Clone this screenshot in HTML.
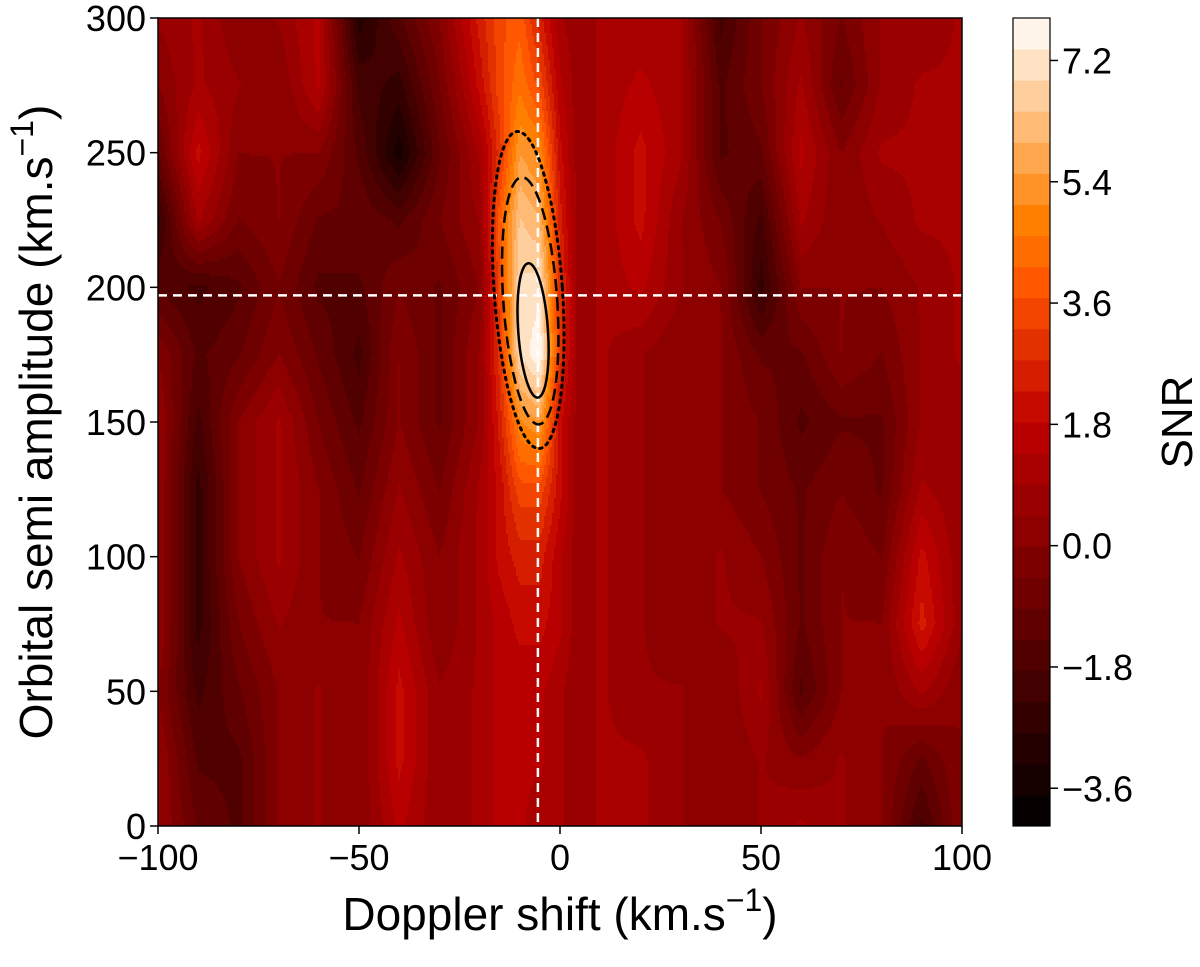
<!DOCTYPE html>
<html><head><meta charset="utf-8"><style>
html,body{margin:0;padding:0;background:#fff;}
svg{display:block;font-family:"Liberation Sans","DejaVu Sans",sans-serif;}
</style></head><body>
<svg id="chart" width="1200" height="967" viewBox="0 0 1200 967" xmlns="http://www.w3.org/2000/svg">
<defs><clipPath id="pc"><rect x="158" y="18" width="804" height="808"/></clipPath></defs>
<g id="heat" clip-path="url(#pc)"></g>
<g id="marks"></g>
<g id="axes"></g>
<g id="cbar"></g>
<text x="560" y="930" text-anchor="middle" font-size="46">Doppler shift (km.s<tspan dy="-19" font-size="32">−1</tspan><tspan dy="19">)</tspan></text>
<text transform="translate(52 422) rotate(-90)" text-anchor="middle" font-size="46">Orbital semi amplitude (km.s<tspan dy="-19" font-size="32">−1</tspan><tspan dy="19">)</tspan></text>
<text transform="translate(1192 422) rotate(-90)" text-anchor="middle" font-size="44">SNR</text>
</svg>
<script>
const xs = [-100,-90,-80,-70,-60,-50,-40,-30,-20,-15,-10,-5,0,5,10,20,30,40,50,60,70,80,90,100];
const ys = [0,25,50,75,100,125,150,175,200,225,250,275,300];
const snrRows = [
[0.5,-1,-1.5,0,0.5,0,1.5,0.5,1,1.5,1.5,1,1,0.5,1,1,0.5,0,0.5,1,0.5,0,-2,0],
[0.5,-1.5,-1.5,0,0.5,0,2,0.5,1,1.5,1.5,1.5,1,0.5,1,1,0.5,0,0.5,0,0.5,0,-1,0],
[0,-2,-1,0,0.5,0,2,0.5,1,1.5,1.5,1.5,1,0.5,1,0.5,0.5,0,1,-1.5,0,0,1,0],
[0.5,-2.5,-0.5,0.5,0,0,1.5,0,1,1.5,2,2,1.5,0.5,1,0.5,0,0.5,0.5,-1,0,0,2.5,0.5],
[0.5,-2.5,0,1,0,-0.5,1,0,1,2,2.5,2.5,1.5,0.5,1,0.5,0,0.5,0,-1,0,-0.5,2,0.5],
[0.5,-2.5,0,1,0,-1,0.5,-0.5,1,2,3.5,3.5,2,0.5,1,0.5,0,0,-0.5,-1,-0.5,-1,1,0.5],
[0.5,-2,0,1,-0.5,-1.5,0,-1,0.5,2.5,5,5.5,2,0.5,1,0.5,0,0,-0.5,-1.5,-1,-1,0.5,0.5],
[0,-1.5,-1,0,-1,-2,0,-1,0.5,3,7,7.8,3,0.5,1,0.5,0,0,-1,-1,0,-0.5,0.5,1],
[-1.5,-2,-1.5,-0.5,-1.5,-1.5,-0.5,-1,0,3.5,7,7.2,3,0.5,1,1.5,0.5,0,-2.5,0,0,0,0.5,1],
[-2.5,1,-0.5,0,-1,-1,-1.5,-0.5,0.5,4,6.5,6,2.5,0.5,1,2,0.5,-0.5,-2,1,0,0.5,1,1],
[-1,2,0,0,0,-1.5,-3.5,-1,1,3,5.5,5,2,0.5,1,2,1,-1.5,-1,1.5,0,1,1,1],
[0,1,0.5,0,1.5,-2,-2.5,-0.5,2,3.5,4.5,3.5,1.5,0.5,1,1.5,1,-1.5,-0.5,1,-1,0.5,1,1],
[0.5,1,0,0.5,1.5,-3,-1.5,0,2.5,3.5,4,2.5,1,0.5,1,1,1,-2,-0.5,0.5,-0.5,0.5,0.5,1]
];
const xTicks = [-100,-50,0,50,100];
const yTicks = [0,50,100,150,200,250,300];
const cbTicks = [7.2,5.4,3.6,1.8,0.0,-1.8,-3.6];
const cbTickLabels = ["7.2","5.4","3.6","1.8","0.0","\u22121.8","\u22123.6"];
const vMin = -4.16, vMax = 7.83, nBands = 26;
const refLineX = -5.5, refLineY = 197;
const contourCx = [-6.7, -7.4, -7.9];
const contourCy = [184, 195, 199];
const contourRx = [3.7, 6.7, 8.5];
const contourRy = [25, 46, 59];
const contourStyle = ["solid","dashed","dotted"];

const NS = "http://www.w3.org/2000/svg";
const X0=158,X1=962,Y0=826,Y1=18;
const sx = v => X0 + (v+100)/200*(X1-X0);
const sy = v => Y0 - v/300*(Y0-Y1);
const cbY = v => 826 - (v-vMin)/(vMax-vMin)*808;
function mk(tag, attrs, parent){const e=document.createElementNS(NS,tag);for(const k in attrs)e.setAttribute(k,attrs[k]);parent.appendChild(e);return e;}
function heat(t){t=Math.max(0,Math.min(1,t));const r=Math.min(1,1.5*t),g=Math.max(0,Math.min(1,2*t-1)),b=Math.max(0,Math.min(1,4*t-3));return `rgb(${Math.round(r*255)},${Math.round(g*255)},${Math.round(b*255)})`;}
const step=(vMax-vMin)/nBands;
function band(v){let k=Math.floor((v-vMin)/step);return Math.max(0,Math.min(nBands-1,k));}
function bandColor(k){return heat((k+0.5)/nBands);}
function locate(arr,v){for(let i=0;i<arr.length-1;i++){if(v<=arr[i+1])return [i,(v-arr[i])/(arr[i+1]-arr[i])];}return [arr.length-2,1];}
function interp(x,y){const [i,fx]=locate(xs,x),[j,fy]=locate(ys,y);
 const a=snrRows[j][i],b=snrRows[j][i+1],c=snrRows[j+1][i],d=snrRows[j+1][i+1];
 return a*(1-fx)*(1-fy)+b*fx*(1-fy)+c*(1-fx)*fy+d*fx*fy;}

const heatG=document.getElementById('heat');
const dx=2,dy=3;
for(let py=Y1;py<Y0;py+=dy){
 const yv=(Y0-(py+dy/2))/(Y0-Y1)*300;
 let startX=X0,cur=null;
 for(let px=X0;px<=X1;px+=dx){
  let k=null;
  if(px<X1){const xv=(px+dx/2-X0)/(X1-X0)*200-100;k=band(interp(xv,yv));}
  if(k!==cur){
   if(cur!==null){const r=mk('rect',{x:startX,y:py,width:px-startX+0.6,height:dy+0.6,fill:bandColor(cur)},heatG);
    
    }
   cur=k;startX=px;}
 }
}
const marks=document.getElementById('marks');
let l=mk('line',{x1:sx(refLineX),x2:sx(refLineX),y1:Y1,y2:Y0,stroke:'#fff','stroke-width':2.5,'stroke-dasharray':'9,6'},marks);


l=mk('line',{x1:X0,x2:X1,y1:sy(refLineY),y2:sy(refLineY),stroke:'#fff','stroke-width':2.5,'stroke-dasharray':'9,6'},marks);


for(let i=0;i<contourCx.length;i++){
 const cx=sx(contourCx[i]),cy=sy(contourCy[i]);
 const rx=contourRx[i]/200*(X1-X0),ry=contourRy[i]/300*(Y0-Y1);
 const st=contourStyle[i];
 const e=mk('ellipse',{cx:cx,cy:cy,rx:rx,ry:ry,fill:'none',stroke:'#000','stroke-width':st==='dotted'?3:2.5,
  'stroke-dasharray':st==='dashed'?'12,6':(st==='dotted'?'2.5,5':'none'),'stroke-linecap':st==='dotted'?'round':'butt',
  transform:`rotate(-4 ${cx} ${cy})`},marks);
 
 
}
const axes=document.getElementById('axes');
let fr=mk('rect',{x:X0,y:Y1,width:X1-X0,height:Y0-Y1,fill:'none',stroke:'#000','stroke-width':1.5},axes);


xTicks.forEach(v=>{
 mk('line',{x1:sx(v),x2:sx(v),y1:Y0,y2:Y0+8,stroke:'#000','stroke-width':1.5},axes);
 const t=mk('text',{x:sx(v),y:Y0+44,'text-anchor':'middle','font-size':36},axes);
 t.textContent=v<0?'\u2212'+Math.abs(v):String(v);
 
 
});
yTicks.forEach(v=>{
 mk('line',{x1:X0-8,x2:X0,y1:sy(v),y2:sy(v),stroke:'#000','stroke-width':1.5},axes);
 const t=mk('text',{x:X0-12,y:sy(v)+13,'text-anchor':'end','font-size':36},axes);
 t.textContent=String(v);
 
 
});
const cb=document.getElementById('cbar');
for(let k=0;k<nBands;k++){
 const r=mk('rect',{x:1013,y:cbY(vMin+(k+1)*step),width:37,height:808/nBands+0.5,fill:bandColor(k)},cb);
 
 
}
mk('rect',{x:1013,y:18,width:37,height:808,fill:'none',stroke:'#000','stroke-width':1.2},cb);
cbTicks.forEach((v,i)=>{
 const y=cbY(v);
 mk('line',{x1:1050,x2:1058,y1:y,y2:y,stroke:'#000','stroke-width':1.5},cb);
 const t=mk('text',{x:1062,y:y+13,'font-size':36},cb);
 t.textContent=cbTickLabels[i];
 
 
});
</script>
</body></html>
